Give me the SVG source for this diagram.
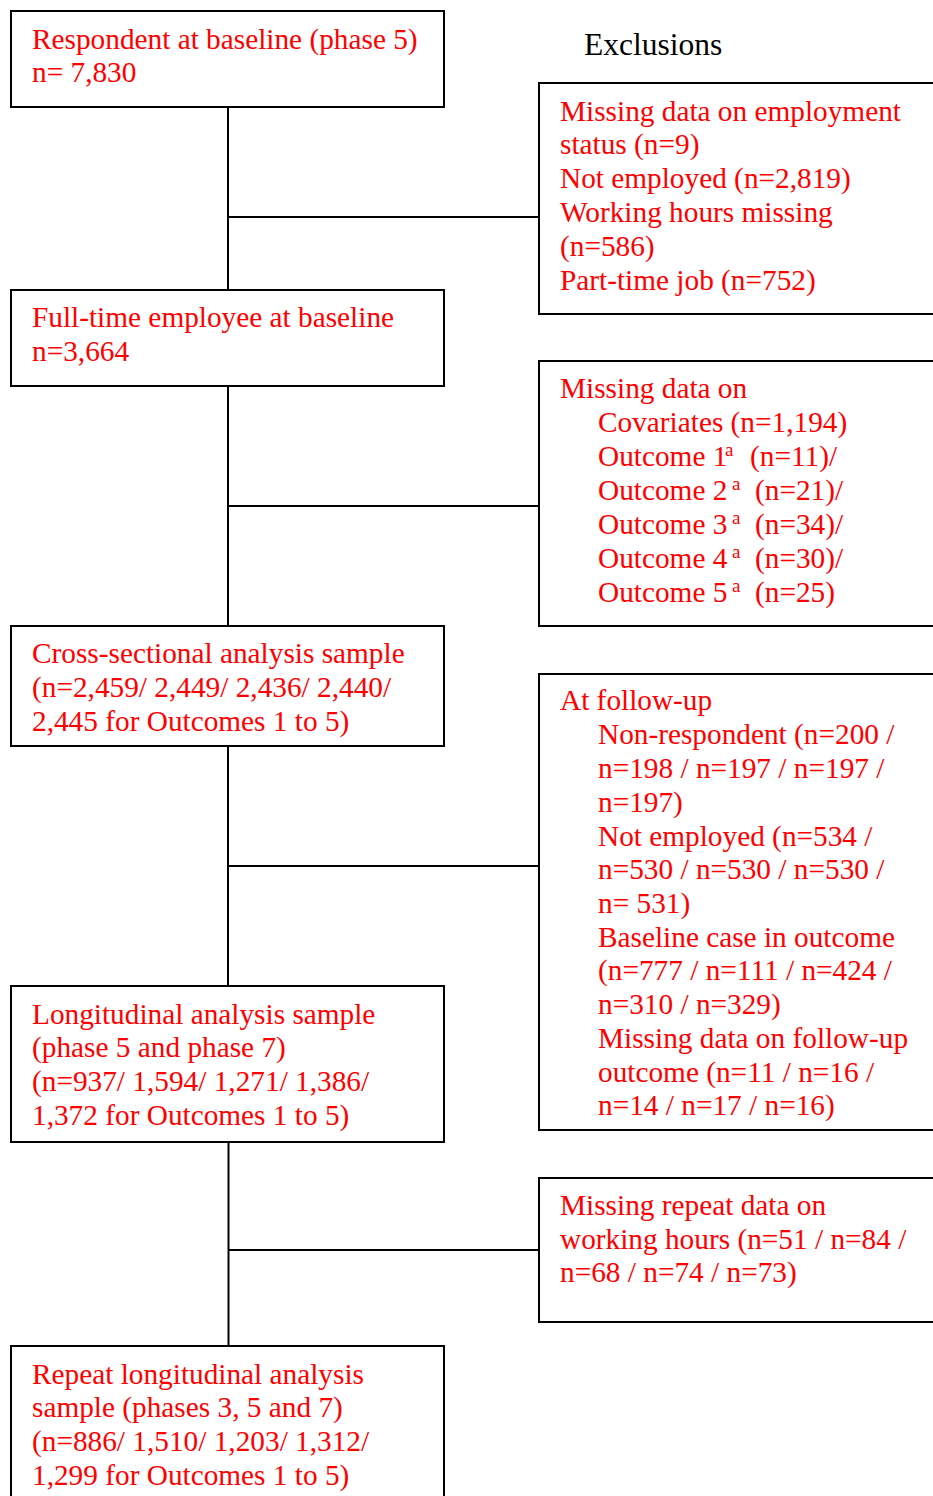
<svg xmlns="http://www.w3.org/2000/svg" width="933" height="1496" viewBox="0 0 933 1496">
<style>
.box{fill:#fff;stroke:#000;stroke-width:2}
.ln{stroke:#000;stroke-width:2;fill:none}
text{font-family:"Liberation Serif","Times New Roman",serif;font-size:29.3px;fill:#ff0000}
.blk{fill:#000;font-size:31.5px}
.sup{font-size:19px}
</style>
<rect width="933" height="1496" fill="#fff"/>
<g id="connectors">
<line class="ln" x1="228" y1="107" x2="228" y2="290"/>
<line class="ln" x1="228" y1="386" x2="228" y2="626"/>
<line class="ln" x1="228" y1="746" x2="228" y2="986"/>
<line class="ln" x1="228.5" y1="1142" x2="228.5" y2="1346"/>
<line class="ln" x1="228" y1="217" x2="539" y2="217"/>
<line class="ln" x1="228" y1="506" x2="539" y2="506"/>
<line class="ln" x1="228" y1="866" x2="539" y2="866"/>
<line class="ln" x1="228.5" y1="1250" x2="539" y2="1250"/>
</g>
<text id="exclusions" class="blk" x="584" y="55">Exclusions</text>
<g id="n1">
<rect class="box" x="11" y="11" width="433" height="96"/>
<text x="32" y="49">Respondent at baseline (phase 5)</text>
<text x="32" y="82">n= 7,830</text>
</g>
<g id="n2">
<rect class="box" x="11" y="290" width="433" height="96"/>
<text x="32" y="327">Full-time employee at baseline</text>
<text x="32" y="361">n=3,664</text>
</g>
<g id="n3">
<rect class="box" x="11" y="626" width="433" height="120"/>
<text x="32" y="663">Cross-sectional analysis sample</text>
<text x="32" y="697">(n=2,459/ 2,449/ 2,436/ 2,440/</text>
<text x="32" y="731">2,445 for Outcomes 1 to 5)</text>
</g>
<g id="n4">
<rect class="box" x="11" y="986" width="433" height="156"/>
<text x="32" y="1024">Longitudinal analysis sample</text>
<text x="32" y="1057">(phase 5 and phase 7)</text>
<text x="32" y="1091">(n=937/ 1,594/ 1,271/ 1,386/</text>
<text x="32" y="1125">1,372 for Outcomes 1 to 5)</text>
</g>
<g id="n5">
<rect class="box" x="11" y="1346" width="433" height="170"/>
<text x="32" y="1384">Repeat longitudinal analysis</text>
<text x="32" y="1417">sample (phases 3, 5 and 7)</text>
<text x="32" y="1451">(n=886/ 1,510/ 1,203/ 1,312/</text>
<text x="32" y="1485">1,299 for Outcomes 1 to 5)</text>
</g>
<g id="e1">
<rect class="box" x="539" y="83" width="420" height="231"/>
<text x="560" y="121">Missing data on employment</text>
<text x="560" y="154">status (n=9)</text>
<text x="560" y="188">Not employed (n=2,819)</text>
<text x="560" y="222">Working hours missing</text>
<text x="560" y="256">(n=586)</text>
<text x="560" y="290">Part-time job (n=752)</text>
</g>
<g id="e2">
<rect class="box" x="539" y="361" width="420" height="265"/>
<text x="560" y="398">Missing data on</text>
<text x="598" y="432">Covariates (n=1,194)</text>
<text x="598" y="466">Outcome 1<tspan class="sup" x="725" y="456">a</tspan><tspan x="750" y="466">(n=11)/</tspan></text>
<text x="598" y="500">Outcome 2<tspan class="sup" x="732" y="490">a</tspan><tspan x="755" y="500">(n=21)/</tspan></text>
<text x="598" y="534">Outcome 3<tspan class="sup" x="732" y="524">a</tspan><tspan x="755" y="534">(n=34)/</tspan></text>
<text x="598" y="568">Outcome 4<tspan class="sup" x="732" y="558">a</tspan><tspan x="755" y="568">(n=30)/</tspan></text>
<text x="598" y="602">Outcome 5<tspan class="sup" x="732" y="592">a</tspan><tspan x="755" y="602">(n=25)</tspan></text>
</g>
<g id="e3">
<rect class="box" x="539" y="674" width="420" height="456"/>
<text x="560" y="710">At follow-up</text>
<text x="598" y="744">Non-respondent (n=200 /</text>
<text x="598" y="778">n=198 / n=197 / n=197 /</text>
<text x="598" y="812">n=197)</text>
<text x="598" y="846">Not employed (n=534 /</text>
<text x="598" y="879">n=530 / n=530 / n=530 /</text>
<text x="598" y="913">n= 531)</text>
<text x="598" y="947">Baseline case in outcome</text>
<text x="598" y="980">(n=777 / n=111 / n=424 /</text>
<text x="598" y="1014">n=310 / n=329)</text>
<text x="598" y="1048">Missing data on follow-up</text>
<text x="598" y="1082">outcome (n=11 / n=16 /</text>
<text x="598" y="1115">n=14 / n=17 / n=16)</text>
</g>
<g id="e4">
<rect class="box" x="539" y="1178" width="420" height="144"/>
<text x="560" y="1215">Missing repeat data on</text>
<text x="560" y="1249">working hours (n=51 / n=84 /</text>
<text x="560" y="1282">n=68 / n=74 / n=73)</text>
</g>
</svg>
